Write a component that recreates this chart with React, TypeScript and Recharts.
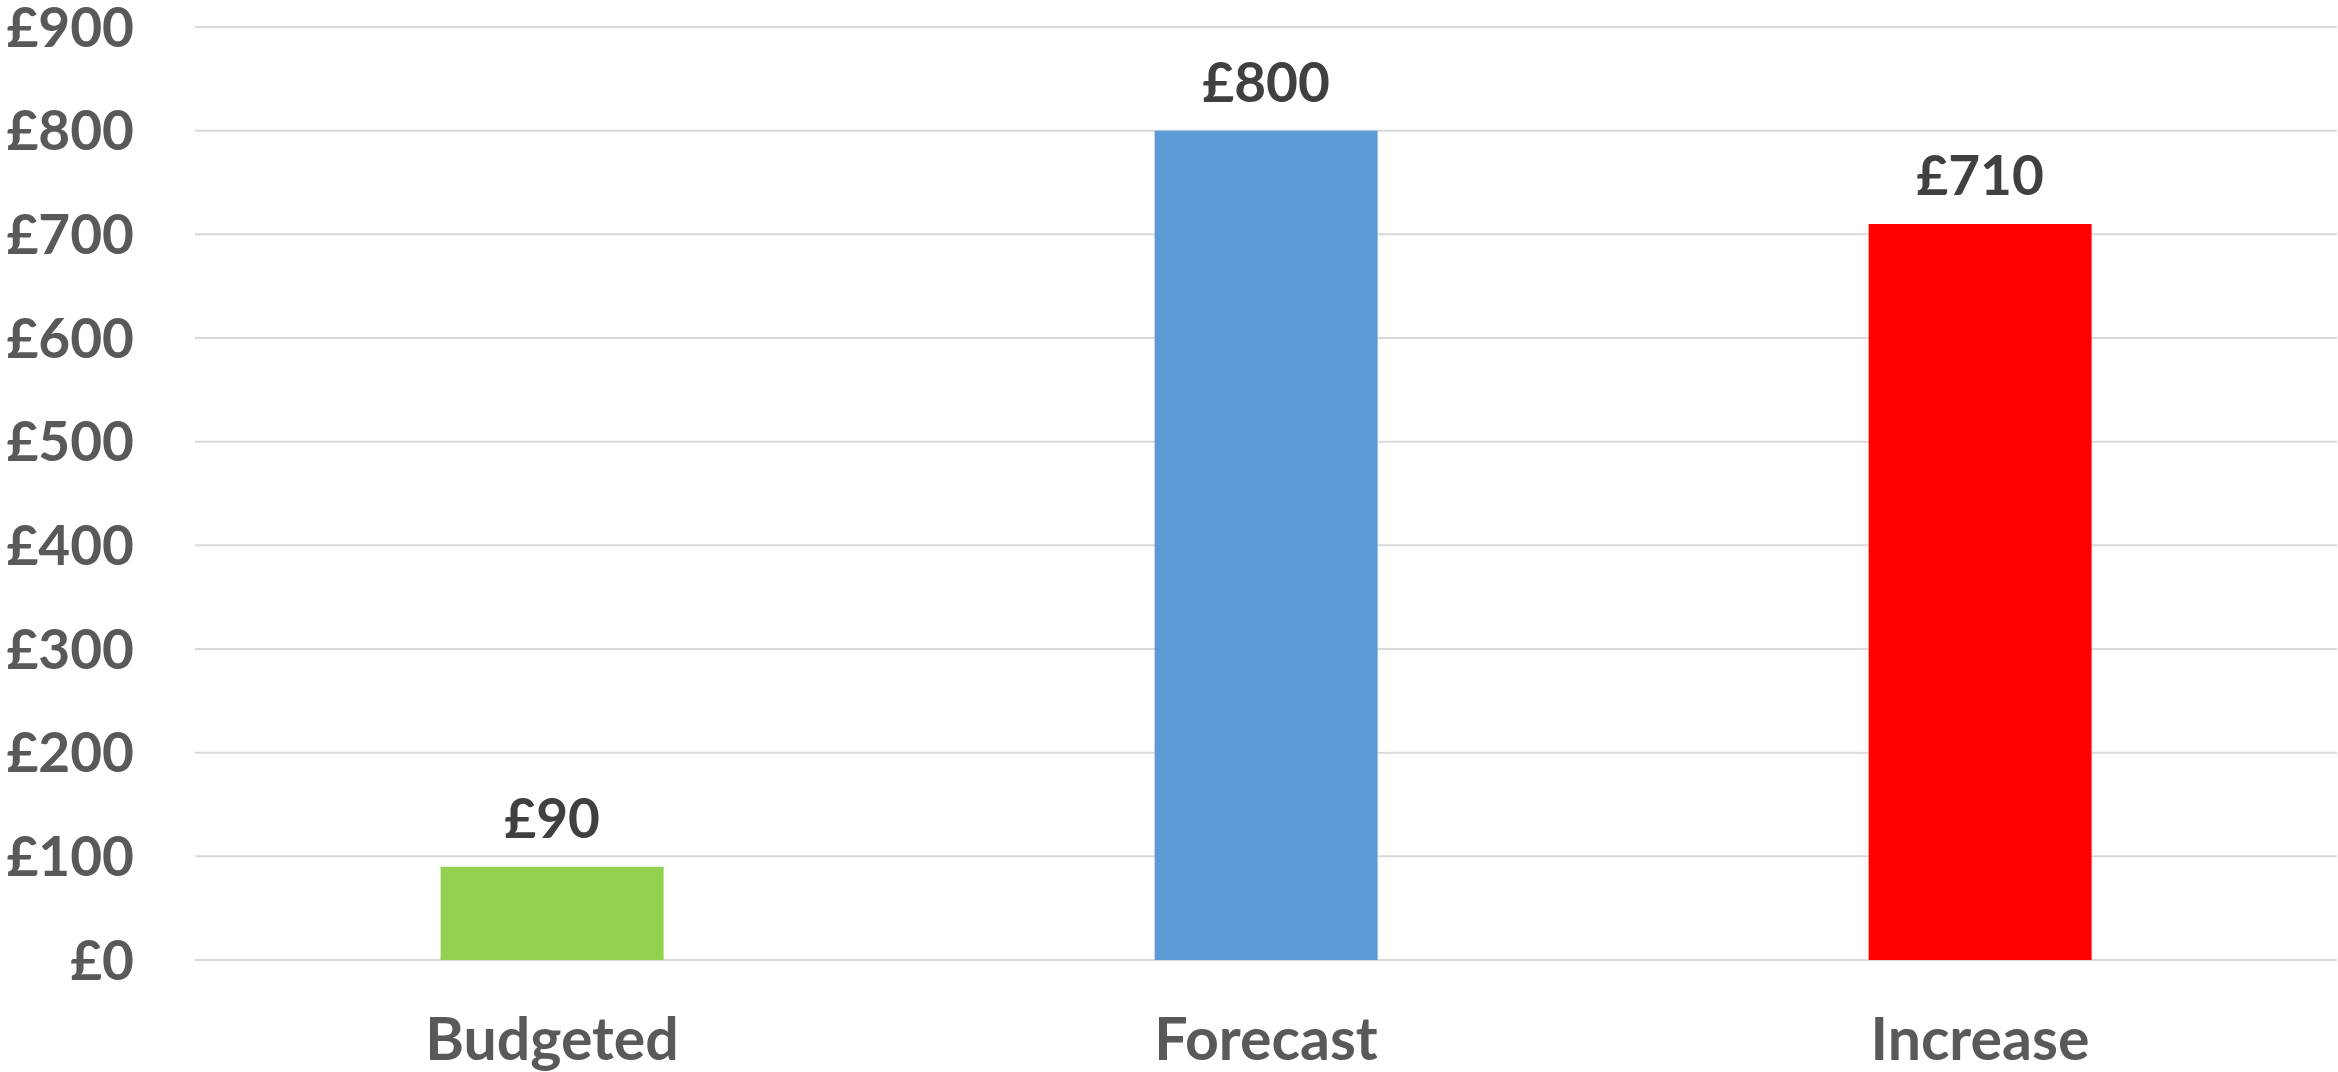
import { BarChart, Bar, XAxis, YAxis, CartesianGrid, Cell, LabelList } from "recharts";

const categories = ["Budgeted", "Forecast", "Increase"];
const amounts = [90, 800, 710];
const barColors = ["#92D050", "#5B9BD5", "#FF0000"];
const yTicks = [0, 100, 200, 300, 400, 500, 600, 700, 800, 900];

const data = categories.map((name, i) => ({ name, value: amounts[i] }));

const FONT = "Lato, 'Open Sans', sans-serif";

export default function App() {
  return (
    <div style={{ position: "absolute", left: 0, top: 0, background: "#fff" }}>
      <BarChart
        width={2338}
        height={1072}
        data={data}
        margin={{ top: 27, right: 1, left: 0, bottom: 0 }}
        barCategoryGap="34.4%"
      >
        <CartesianGrid vertical={false} stroke="#d9d9d9" strokeWidth={2} />
        <XAxis
          dataKey="name"
          height={112}
          axisLine={false}
          tickLine={false}
          tickSize={0}
          tickMargin={58}
          tick={{ fill: "#595959", fontSize: 59, fontWeight: 700, fontFamily: FONT }}
        />
        <YAxis
          width={195}
          domain={[0, 900]}
          ticks={yTicks}
          interval={0}
          axisLine={false}
          tickLine={false}
          tickSize={0}
          tickMargin={61}
          tickFormatter={(v: number) => `£${v}`}
          tick={{ fill: "#595959", fontSize: 55, fontWeight: 700, fontFamily: FONT }}
        />
        <Bar dataKey="value" isAnimationActive={false}>
          {data.map((d, i) => (
            <Cell key={d.name} fill={barColors[i]} />
          ))}
          <LabelList
            dataKey="value"
            position="top"
            offset={29}
            formatter={(v: number) => `£${v}`}
            style={{ fill: "#404040", fontSize: 55, fontWeight: 700, fontFamily: FONT }}
          />
        </Bar>
      </BarChart>
    </div>
  );
}
